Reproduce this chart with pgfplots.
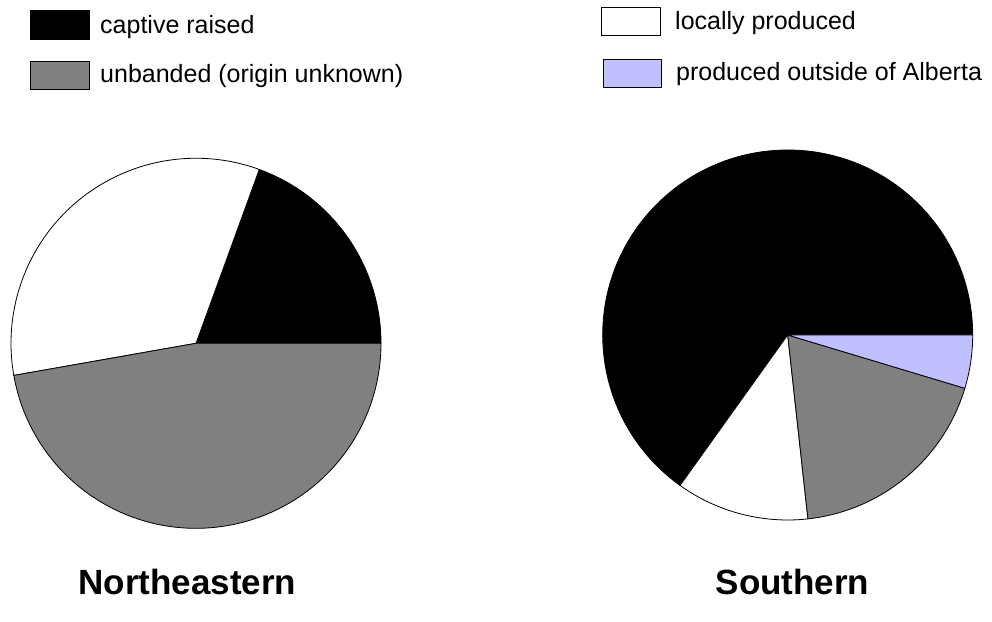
\documentclass[border=0pt]{standalone}
\usepackage{pgfplots}
\usepackage{pgfplotstable}
\pgfplotsset{compat=1.18}
\usepackage{fontspec}
\setmainfont{Liberation Sans}

\definecolor{unbandgray}{RGB}{128,128,128}
\definecolor{outsideblue}{RGB}{192,192,255}

% bird counts by origin, one row per region
\pgfplotstableread{
region captive local unbanded outside
NE     7       12    17       0
S      28      5     8        2
}\counts

\def\pieR{185pt}

% one wedge, angles expanded now (axis postpones the drawing)
\newcommand\pieslice[3]{%
  \edef\tmp{\noexpand\filldraw[fill=#3,draw=black,line width=0.8pt,line join=round]
    (axis cs:0,0) -- ++(#1:\pieR) arc[start angle=#1,end angle=#2,radius=\pieR] -- cycle;}%
  \tmp}

% whole pie for a table row, counter-clockwise from 3 o'clock
\newcommand\drawpie[1]{%
  \pgfplotstablegetelem{#1}{captive}\of\counts\let\pa\pgfplotsretval
  \pgfplotstablegetelem{#1}{local}\of\counts\let\pb\pgfplotsretval
  \pgfplotstablegetelem{#1}{unbanded}\of\counts\let\pc\pgfplotsretval
  \pgfplotstablegetelem{#1}{outside}\of\counts\let\pd\pgfplotsretval
  \pgfmathsetmacro\ptot{\pa+\pb+\pc+\pd}%
  \pgfmathsetmacro\sb{360*\pa/\ptot}%
  \pgfmathsetmacro\sc{360*(\pa+\pb)/\ptot}%
  \pgfmathsetmacro\sd{360*(\pa+\pb+\pc)/\ptot}%
  \pieslice{0}{\sb}{black}%
  \pieslice{\sb}{\sc}{white}%
  \pieslice{\sc}{\sd}{unbandgray}%
  \ifdim\pd pt>0pt \pieslice{\sd}{360}{outsideblue}\fi
}

\pgfplotsset{pieaxis/.style={
  anchor=center, width=370pt, height=370pt, scale only axis,
  hide axis, clip=false, xmin=-1, xmax=1, ymin=-1, ymax=1}}

\begin{document}
\begin{tikzpicture}[x=1pt,y=1pt]
\useasboundingbox (0,0) rectangle (992,621);

\begin{axis}[pieaxis, at={(196pt,277.7pt)}]
  \drawpie{0}
\end{axis}

\begin{axis}[pieaxis, at={(787.7pt,286pt)}]
  \drawpie{1}
\end{axis}

% legend
\begin{scope}[every node/.style={anchor=base west,inner sep=0pt,font=\fontsize{25}{30}\selectfont},
              box/.style={draw=black,line width=0.8pt}]
  \filldraw[box,fill=black] (30,582) rectangle (89,611);
  \node at (100,587) {captive raised};
  \filldraw[box,fill=unbandgray] (30,532) rectangle (89,560);
  \node at (100,538) {unbanded (origin unknown)};
  \filldraw[box,fill=white] (601,586) rectangle (660,614);
  \node at (675,591) {locally produced};
  \filldraw[box,fill=outsideblue] (603,534) rectangle (661,562);
  \node at (676,540) {produced outside of Alberta};
\end{scope}

% titles
\node[anchor=base,inner sep=0pt,font=\fontsize{35}{40}\selectfont\bfseries] at (187.4,27) {Northeastern};
\node[anchor=base,inner sep=0pt,font=\fontsize{35}{40}\selectfont\bfseries] at (792.5,27) {Southern};
\end{tikzpicture}
\end{document}
